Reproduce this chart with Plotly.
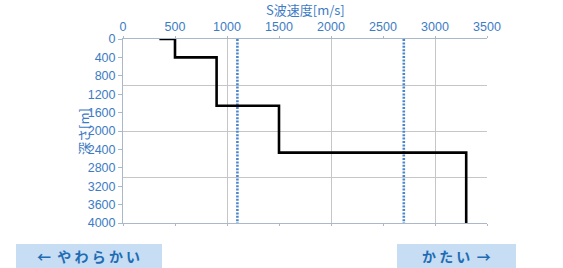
import plotly.graph_objects as go

# Data
velocity_steps = [350, 500, 900, 1500, 3300]      # S-wave velocity [m/s]
depth_steps = [0, 400, 1450, 2470, 4000]          # depth [m]
reference_velocities = [1100, 2700]              # dotted reference lines
reference_depth_range = [0, 4000]
x_tick_labels = [0, 500, 1000, 1500, 2000, 2500, 3000, 3500]
y_tick_labels = [0, 400, 800, 1200, 1600, 2000, 2400, 2800, 3200, 3600, 4000]
grid_x = [0, 1000, 2000, 3000]
grid_y = [0, 1000, 2000, 3000, 4000]

LABEL = "#3d7cc4"
AXLINE = "#a9b9c9"
GRID = "#c6c6c6"
FONT = "Liberation Sans, Arial, Noto Sans CJK JP, sans-serif"
JFONT = "Noto Sans CJK JP, sans-serif"

fig = go.Figure()

# invisible trace for the grid overlay axes
fig.add_trace(go.Scatter(x=[], y=[], xaxis="x2", yaxis="y2", showlegend=False, hoverinfo="skip"))

for v in reference_velocities:
    fig.add_trace(go.Scatter(
        x=[v, v], y=reference_depth_range, mode="lines",
        line=dict(color="#4a86cc", width=2.6, dash="2px,1.4px"),
        showlegend=False, hoverinfo="skip"))

fig.add_trace(go.Scatter(
    x=velocity_steps, y=depth_steps, mode="lines", line_shape="hv",
    line=dict(color="black", width=2.6), showlegend=False, cliponaxis=False))

fig.update_layout(
    width=563, height=268,
    margin=dict(l=123, r=76, t=39, b=45, autoexpand=False),
    paper_bgcolor="white", plot_bgcolor="white",
    font=dict(family=FONT, color=LABEL, size=12.5),
    xaxis=dict(
        side="top", range=[0, 3500], tickmode="array", tickvals=x_tick_labels,
        showgrid=False, zeroline=False, showline=True, linecolor=AXLINE, linewidth=1,
        mirror="ticks", ticks="outside", ticklen=2, tickcolor=AXLINE,
        tickfont=dict(size=12.5, color=LABEL), automargin=False,
    ),
    yaxis=dict(
        range=[4000, 0], tickmode="array", tickvals=y_tick_labels,
        showgrid=False, zeroline=False, showline=True, linecolor=AXLINE, linewidth=1,
        ticks="outside", ticklen=4, tickcolor=AXLINE, automargin=False,
        tickfont=dict(size=12.5, color=LABEL),
    ),
    xaxis2=dict(
        overlaying="x", range=[0, 3500], tickmode="array", tickvals=grid_x,
        showgrid=True, gridcolor=GRID, gridwidth=1, showticklabels=False,
        ticks="", zeroline=False, showline=False, automargin=False,
    ),
    yaxis2=dict(
        overlaying="y", range=[4000, 0], tickmode="array", tickvals=grid_y,
        showgrid=True, gridcolor=GRID, gridwidth=1, showticklabels=False,
        ticks="", zeroline=False, showline=False, automargin=False,
    ),
)

# axis titles
fig.add_annotation(
    text="S波速度[m/s]", xref="paper", yref="paper", x=0.5, y=1.158,
    xanchor="center", yanchor="middle", showarrow=False,
    font=dict(family=JFONT, size=13, color=LABEL))
fig.add_annotation(
    text="深さ[m]", xref="paper", yref="paper", x=-0.11, y=0.5,
    xanchor="center", yanchor="middle",
    textangle=-90, showarrow=False, font=dict(family=JFONT, size=13, color=LABEL))

# bottom boxes
boxes = [
    dict(x0=-0.294, x1=0.1071, text="←  や わ ら か い"),
    dict(x0=0.7527, x1=1.0797, text="か た い  →"),
]
for b in boxes:
    fig.add_shape(type="rect", xref="paper", yref="paper",
                  x0=b["x0"], x1=b["x1"], y0=-0.2446, y1=-0.1141,
                  fillcolor="#c6ddf3", line=dict(width=0), layer="below")
    fig.add_annotation(
        text="<b>" + b["text"] + "</b>", xref="paper", yref="paper",
        x=(b["x0"] + b["x1"]) / 2, y=-0.179, showarrow=False,
        xanchor="center", yanchor="middle",
        font=dict(family=JFONT, size=14, color="#1f6cb4"))

fig.write_html("out.html", config={"displayModeBar": False},
               post_script="document.body.style.margin='0';")
